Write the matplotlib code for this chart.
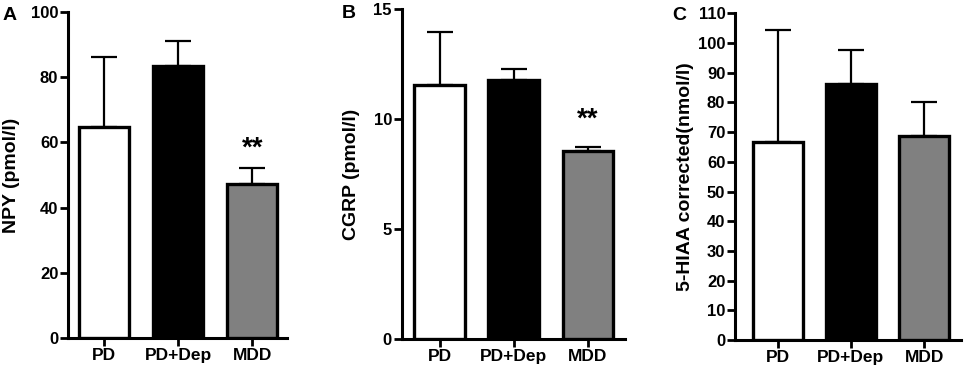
import matplotlib
matplotlib.use("Agg")
import matplotlib.pyplot as plt

plt.rcParams['font.family'] = ['Liberation Sans', 'DejaVu Sans']
plt.rcParams['font.weight'] = 'bold'

categories = ["PD", "PD+Dep", "MDD"]
bar_colors = ["white", "black", "#808080"]

npy_mean = [64.7, 83.4, 47.1]
npy_err = [21.4, 7.7, 5.1]

cgrp_mean = [11.56, 11.77, 8.57]
cgrp_err = [2.41, 0.50, 0.18]

hiaa_mean = [66.7, 86.1, 68.6]
hiaa_err = [37.8, 11.5, 11.6]

panels = [
    dict(letter="A", mean=npy_mean, err=npy_err, ylabel="NPY (pmol/l)",
         ylim=100, yticks=[0, 20, 40, 60, 80, 100], stars=(2, 58.2),
         rect=[68/965, 31/369, 219/965, 326/369], xlim=(-0.49, 2.47),
         lab_x=-0.26, letter_xy=(10/965, 1 - 15/369)),
    dict(letter="B", mean=cgrp_mean, err=cgrp_err, ylabel="CGRP (pmol/l)",
         ylim=15, yticks=[0, 5, 10, 15], stars=(2, 9.97),
         rect=[401.7/965, 29.7/369, 223.3/965, 330/369], xlim=(-0.51, 2.5),
         lab_x=-0.225, letter_xy=(349/965, 1 - 14/369)),
    dict(letter="C", mean=hiaa_mean, err=hiaa_err, ylabel="5-HIAA corrected(nmol/l)",
         ylim=110, yticks=list(range(0, 111, 10)), stars=None,
         rect=[735/965, 29/369, 226/965, 326.7/369], xlim=(-0.58, 2.5),
         lab_x=-0.219, letter_xy=(679/965, 1 - 15/369)),
]

fig = plt.figure(figsize=(9.65, 3.69), dpi=100)

for p in panels:
    ax = fig.add_axes(p["rect"])
    x = list(range(len(categories)))
    ax.bar(x, p["mean"], width=0.68, color=bar_colors, edgecolor="black",
           linewidth=2.4, zorder=3)
    ax.errorbar(x, p["mean"], yerr=[[0, 0, 0], p["err"]], fmt="none",
                ecolor="black", elinewidth=1.6, capsize=9.5, capthick=1.6,
                zorder=2)
    ax.set_xlim(*p["xlim"])
    ax.set_ylim(0, p["ylim"])
    ax.set_yticks(p["yticks"])
    ax.set_yticklabels([str(v) for v in p["yticks"]], fontweight="bold",
                       fontsize=12)
    ax.set_xticks(x)
    ax.set_xticklabels(categories, fontweight="bold", fontsize=12.5)
    for s in ["top", "right"]:
        ax.spines[s].set_visible(False)
    for s in ["left", "bottom"]:
        ax.spines[s].set_linewidth(2.2)
    ax.tick_params(axis="both", direction="out", length=5.5, width=2.0, pad=1.5)
    ax.set_ylabel(p["ylabel"], fontsize=14, fontweight="bold", va="center")
    ax.yaxis.set_label_coords(p["lab_x"], 0.5)
    if p["stars"] is not None:
        ax.text(p["stars"][0], p["stars"][1], "**", ha="center", va="center",
                fontsize=20, fontweight="bold")
    fig.text(p["letter_xy"][0], p["letter_xy"][1], p["letter"], ha="center",
             va="center", fontsize=14, fontweight="bold")

fig.savefig("out.png", dpi=100)
